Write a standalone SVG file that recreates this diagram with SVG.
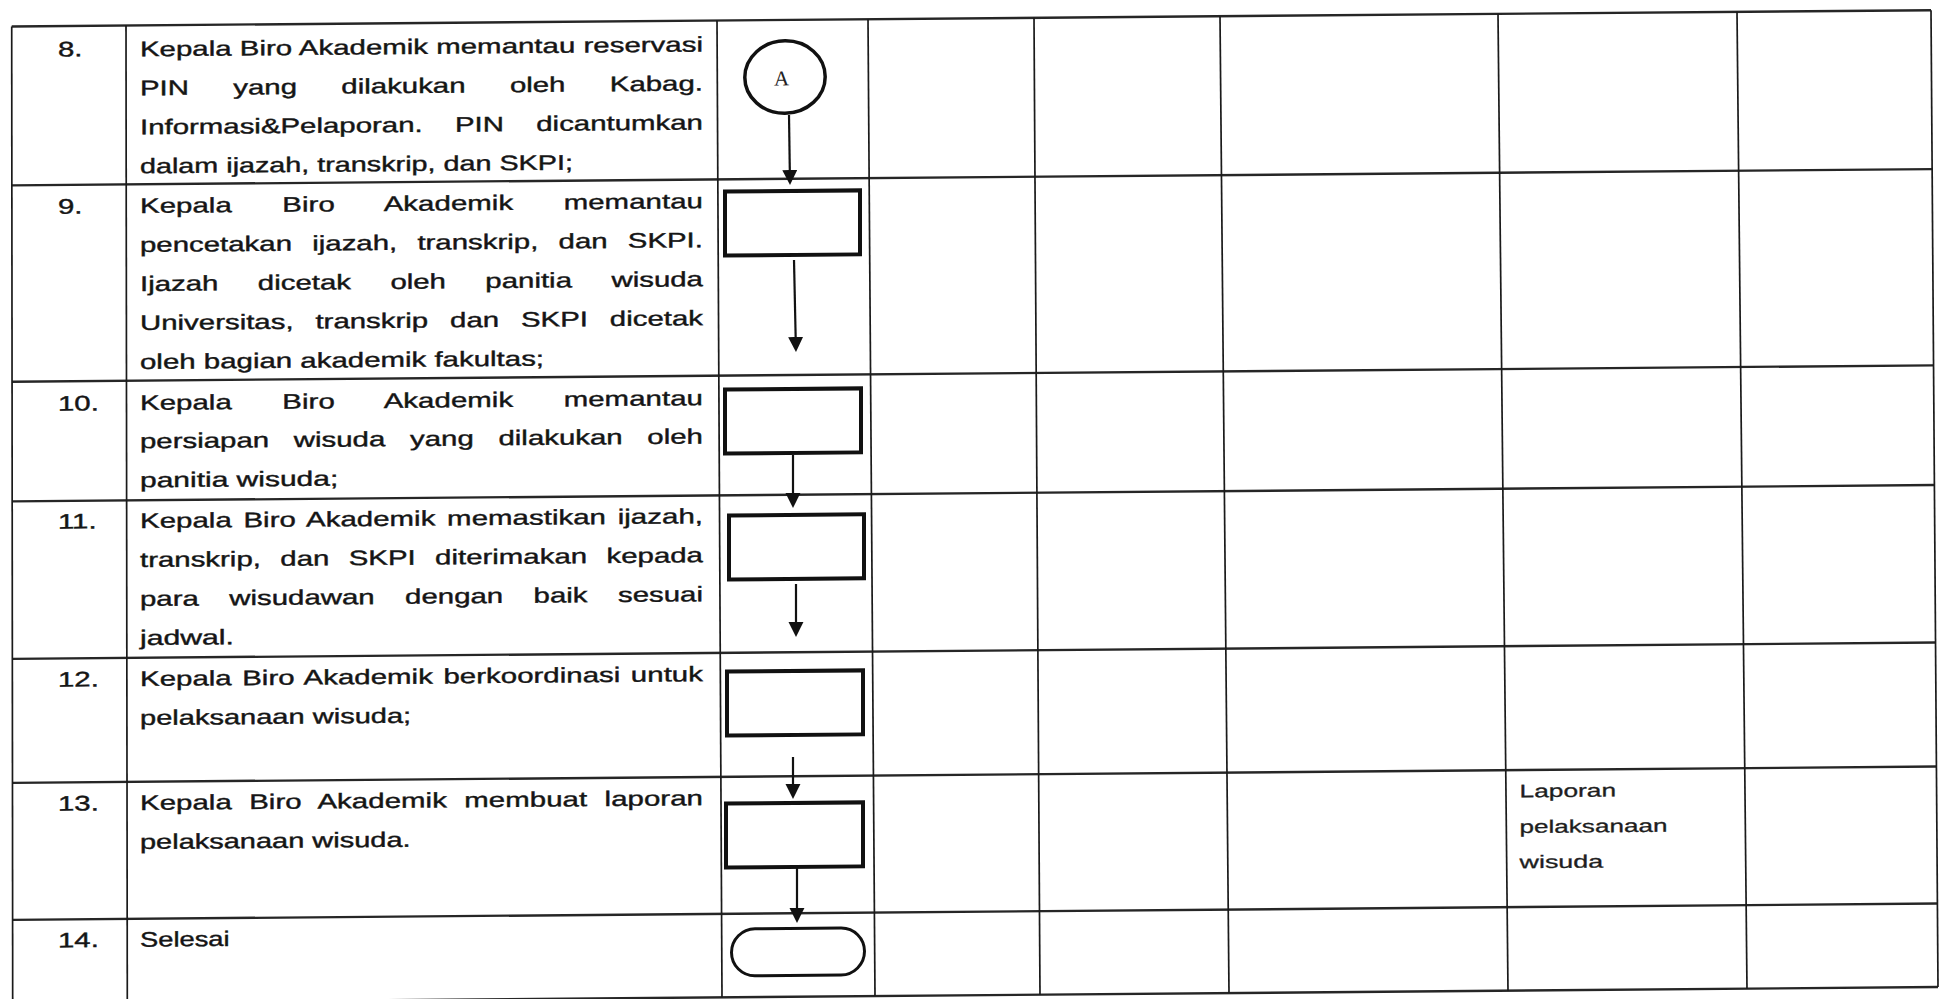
<svg xmlns="http://www.w3.org/2000/svg" width="1940" height="999" viewBox="0 0 1940 999">
<style>
.h{stroke:#262626;stroke-width:2.4;fill:none}
.v{stroke:#1a1a1a;stroke-width:1.7;fill:none}
.box{fill:#fff;stroke:#111;stroke-width:4}
.term{fill:#fff;stroke:#111;stroke-width:3}
.circ{fill:#fff;stroke:#111;stroke-width:3.5}
.ar{stroke:#111;stroke-width:2.2;fill:none;marker-end:url(#ah)}
.t{font-family:"Liberation Sans",Arial,sans-serif;font-size:21px;fill:#151515;stroke:#151515;stroke-width:0.4}
.s{font-family:"Liberation Sans",Arial,sans-serif;font-size:18px;fill:#1e1e1e;stroke:#1e1e1e;stroke-width:0.3}
.a{font-family:"Liberation Serif","Times New Roman",serif;font-size:21px;fill:#222}
</style>
<defs>
<marker id="ah" markerUnits="userSpaceOnUse" markerWidth="16" markerHeight="16" refX="7" refY="7.5" orient="auto"><path d="M0,0 L15,7.5 L0,15 Z" fill="#111"/></marker>
</defs>
<rect width="1940" height="999" fill="#fff"/>
<g transform="skewY(-0.487)">
<g id="table">
<line class="h" x1="11.7" y1="26.6" x2="1931" y2="26.6"/>
<line class="h" x1="11.9" y1="185.5" x2="1932.1" y2="185.5"/>
<line class="h" x1="12.1" y1="381.8" x2="1933.5" y2="381.8"/>
<line class="h" x1="12.2" y1="501.5" x2="1934.4" y2="501.5"/>
<line class="h" x1="12.4" y1="659" x2="1935.5" y2="659"/>
<line class="h" x1="12.5" y1="783" x2="1936.4" y2="783"/>
<line class="h" x1="12.6" y1="920" x2="1937.4" y2="920"/>
<line class="h" x1="12.7" y1="1003.5" x2="1938" y2="1003.5"/>
<line class="v" x1="11.7" y1="26.6" x2="12.7" y2="1003.5"/>
<line class="v" x1="126" y1="26.6" x2="127.3" y2="1003.5"/>
<line class="v" x1="717" y1="26.6" x2="722" y2="1003.5"/>
<line class="v" x1="868" y1="26.6" x2="875" y2="1003.5"/>
<line class="v" x1="1034" y1="26.6" x2="1040" y2="1003.5"/>
<line class="v" x1="1220" y1="26.6" x2="1229" y2="1003.5"/>
<line class="v" x1="1498" y1="26.6" x2="1508" y2="1003.5"/>
<line class="v" x1="1737" y1="26.6" x2="1747" y2="1003.5"/>
<line class="v" x1="1931" y1="26.6" x2="1938" y2="1003.5"/>
</g>
<g transform="scale(1.4,1)">
<g id="row-8">
<text class="t" x="41.4" y="57">8.</text>
<text class="t" x="100" y="57.5" textLength="402.1" lengthAdjust="spacing">Kepala Biro Akademik memantau reservasi</text>
<text class="t" x="100" y="96.5" textLength="402.1" lengthAdjust="spacing" style="word-spacing:25.82px">PIN yang dilakukan oleh Kabag.</text>
<text class="t" x="100" y="135.5" textLength="402.1" lengthAdjust="spacing" style="word-spacing:17.23px">Informasi&amp;Pelaporan. PIN dicantumkan</text>
<text class="t" x="100" y="174.5" textLength="309.2" lengthAdjust="spacingAndGlyphs">dalam ijazah, transkrip, dan SKPI;</text>
</g>
<g id="row-9">
<text class="t" x="41.4" y="214.2">9.</text>
<text class="t" x="100" y="214.2" textLength="402.1" lengthAdjust="spacing" style="word-spacing:30.16px">Kepala Biro Akademik memantau</text>
<text class="t" x="100" y="253.2" textLength="402.1" lengthAdjust="spacing" style="word-spacing:8.6px">pencetakan ijazah, transkrip, dan SKPI.</text>
<text class="t" x="100" y="292.2" textLength="402.1" lengthAdjust="spacing" style="word-spacing:22.32px">Ijazah dicetak oleh panitia wisuda</text>
<text class="t" x="100" y="331.2" textLength="402.1" lengthAdjust="spacing" style="word-spacing:9.79px">Universitas, transkrip dan SKPI dicetak</text>
<text class="t" x="100" y="370.2" textLength="288.6" lengthAdjust="spacingAndGlyphs">oleh bagian akademik fakultas;</text>
</g>
<g id="row-10">
<text class="t" x="41.4" y="411.2">10.</text>
<text class="t" x="100" y="411.2" textLength="402.1" lengthAdjust="spacing" style="word-spacing:30.16px">Kepala Biro Akademik memantau</text>
<text class="t" x="100" y="449.5" textLength="402.1" lengthAdjust="spacing" style="word-spacing:11.81px">persiapan wisuda yang dilakukan oleh</text>
<text class="t" x="100" y="488.5" textLength="141.6" lengthAdjust="spacingAndGlyphs">panitia wisuda;</text>
</g>
<g id="row-11">
<text class="t" x="41.4" y="529.2">11.</text>
<text class="t" x="100" y="529.2" textLength="402.1" lengthAdjust="spacing" style="word-spacing:2.49px">Kepala Biro Akademik memastikan ijazah,</text>
<text class="t" x="100" y="568.2" textLength="402.1" lengthAdjust="spacing" style="word-spacing:8.02px">transkrip, dan SKPI diterimakan kepada</text>
<text class="t" x="100" y="607.2" textLength="402.1" lengthAdjust="spacing" style="word-spacing:15.9px">para wisudawan dengan baik sesuai</text>
<text class="t" x="100" y="646.2" textLength="67.1" lengthAdjust="spacingAndGlyphs">jadwal.</text>
</g>
<g id="row-12">
<text class="t" x="41.4" y="687.2">12.</text>
<text class="t" x="100" y="687.2" textLength="402.1" lengthAdjust="spacing" style="word-spacing:1.61px">Kepala Biro Akademik berkoordinasi untuk</text>
<text class="t" x="100" y="726.2" textLength="193.7" lengthAdjust="spacingAndGlyphs">pelaksanaan wisuda;</text>
</g>
<g id="row-13">
<text class="t" x="41.4" y="811.2">13.</text>
<text class="t" x="100" y="811.2" textLength="402.1" lengthAdjust="spacing" style="word-spacing:6.57px">Kepala Biro Akademik membuat laporan</text>
<text class="t" x="100" y="850.2" textLength="193.3" lengthAdjust="spacingAndGlyphs">pelaksanaan wisuda.</text>
<text class="s" x="1085.4" y="810.2" textLength="68.9" lengthAdjust="spacingAndGlyphs">Laporan</text>
<text class="s" x="1085.4" y="845.9" textLength="105.6" lengthAdjust="spacingAndGlyphs">pelaksanaan</text>
<text class="s" x="1085.4" y="881.2" textLength="59.7" lengthAdjust="spacingAndGlyphs">wisuda</text>
</g>
<g id="row-14">
<text class="t" x="41.4" y="947.9">14.</text>
<text class="t" x="100" y="947.9" textLength="64" lengthAdjust="spacingAndGlyphs">Selesai</text>
</g>
</g>
<g id="connectors">
<line class="ar" x1="789" y1="121.7" x2="789.9" y2="183.7"/>
<line class="ar" x1="794" y1="266.7" x2="795.8" y2="350.7"/>
<line class="ar" x1="793" y1="461.7" x2="793" y2="506.7"/>
<line class="ar" x1="796" y1="590.7" x2="796" y2="635.7"/>
<line class="ar" x1="793" y1="763.7" x2="793" y2="797.7"/>
<line class="ar" x1="797" y1="871.7" x2="797" y2="921.7"/>
</g>
<g id="node-A">
<ellipse class="circ" cx="785" cy="83.7" rx="40.2" ry="36.2"/>
<text class="a" x="781.5" y="92.2" text-anchor="middle">A</text>
</g>
<g id="node-9"><rect class="box" x="725" y="197.7" width="135" height="64"/></g>
<g id="node-10"><rect class="box" x="725" y="395.7" width="136" height="64"/></g>
<g id="node-11"><rect class="box" x="729" y="521.7" width="135" height="64"/></g>
<g id="node-12"><rect class="box" x="727" y="677.7" width="136" height="64"/></g>
<g id="node-13"><rect class="box" x="726" y="809.7" width="137" height="64"/></g>
<g id="node-end"><rect class="term" x="731.5" y="935.2" width="133" height="47" rx="23.5"/></g>
</g>
</svg>
